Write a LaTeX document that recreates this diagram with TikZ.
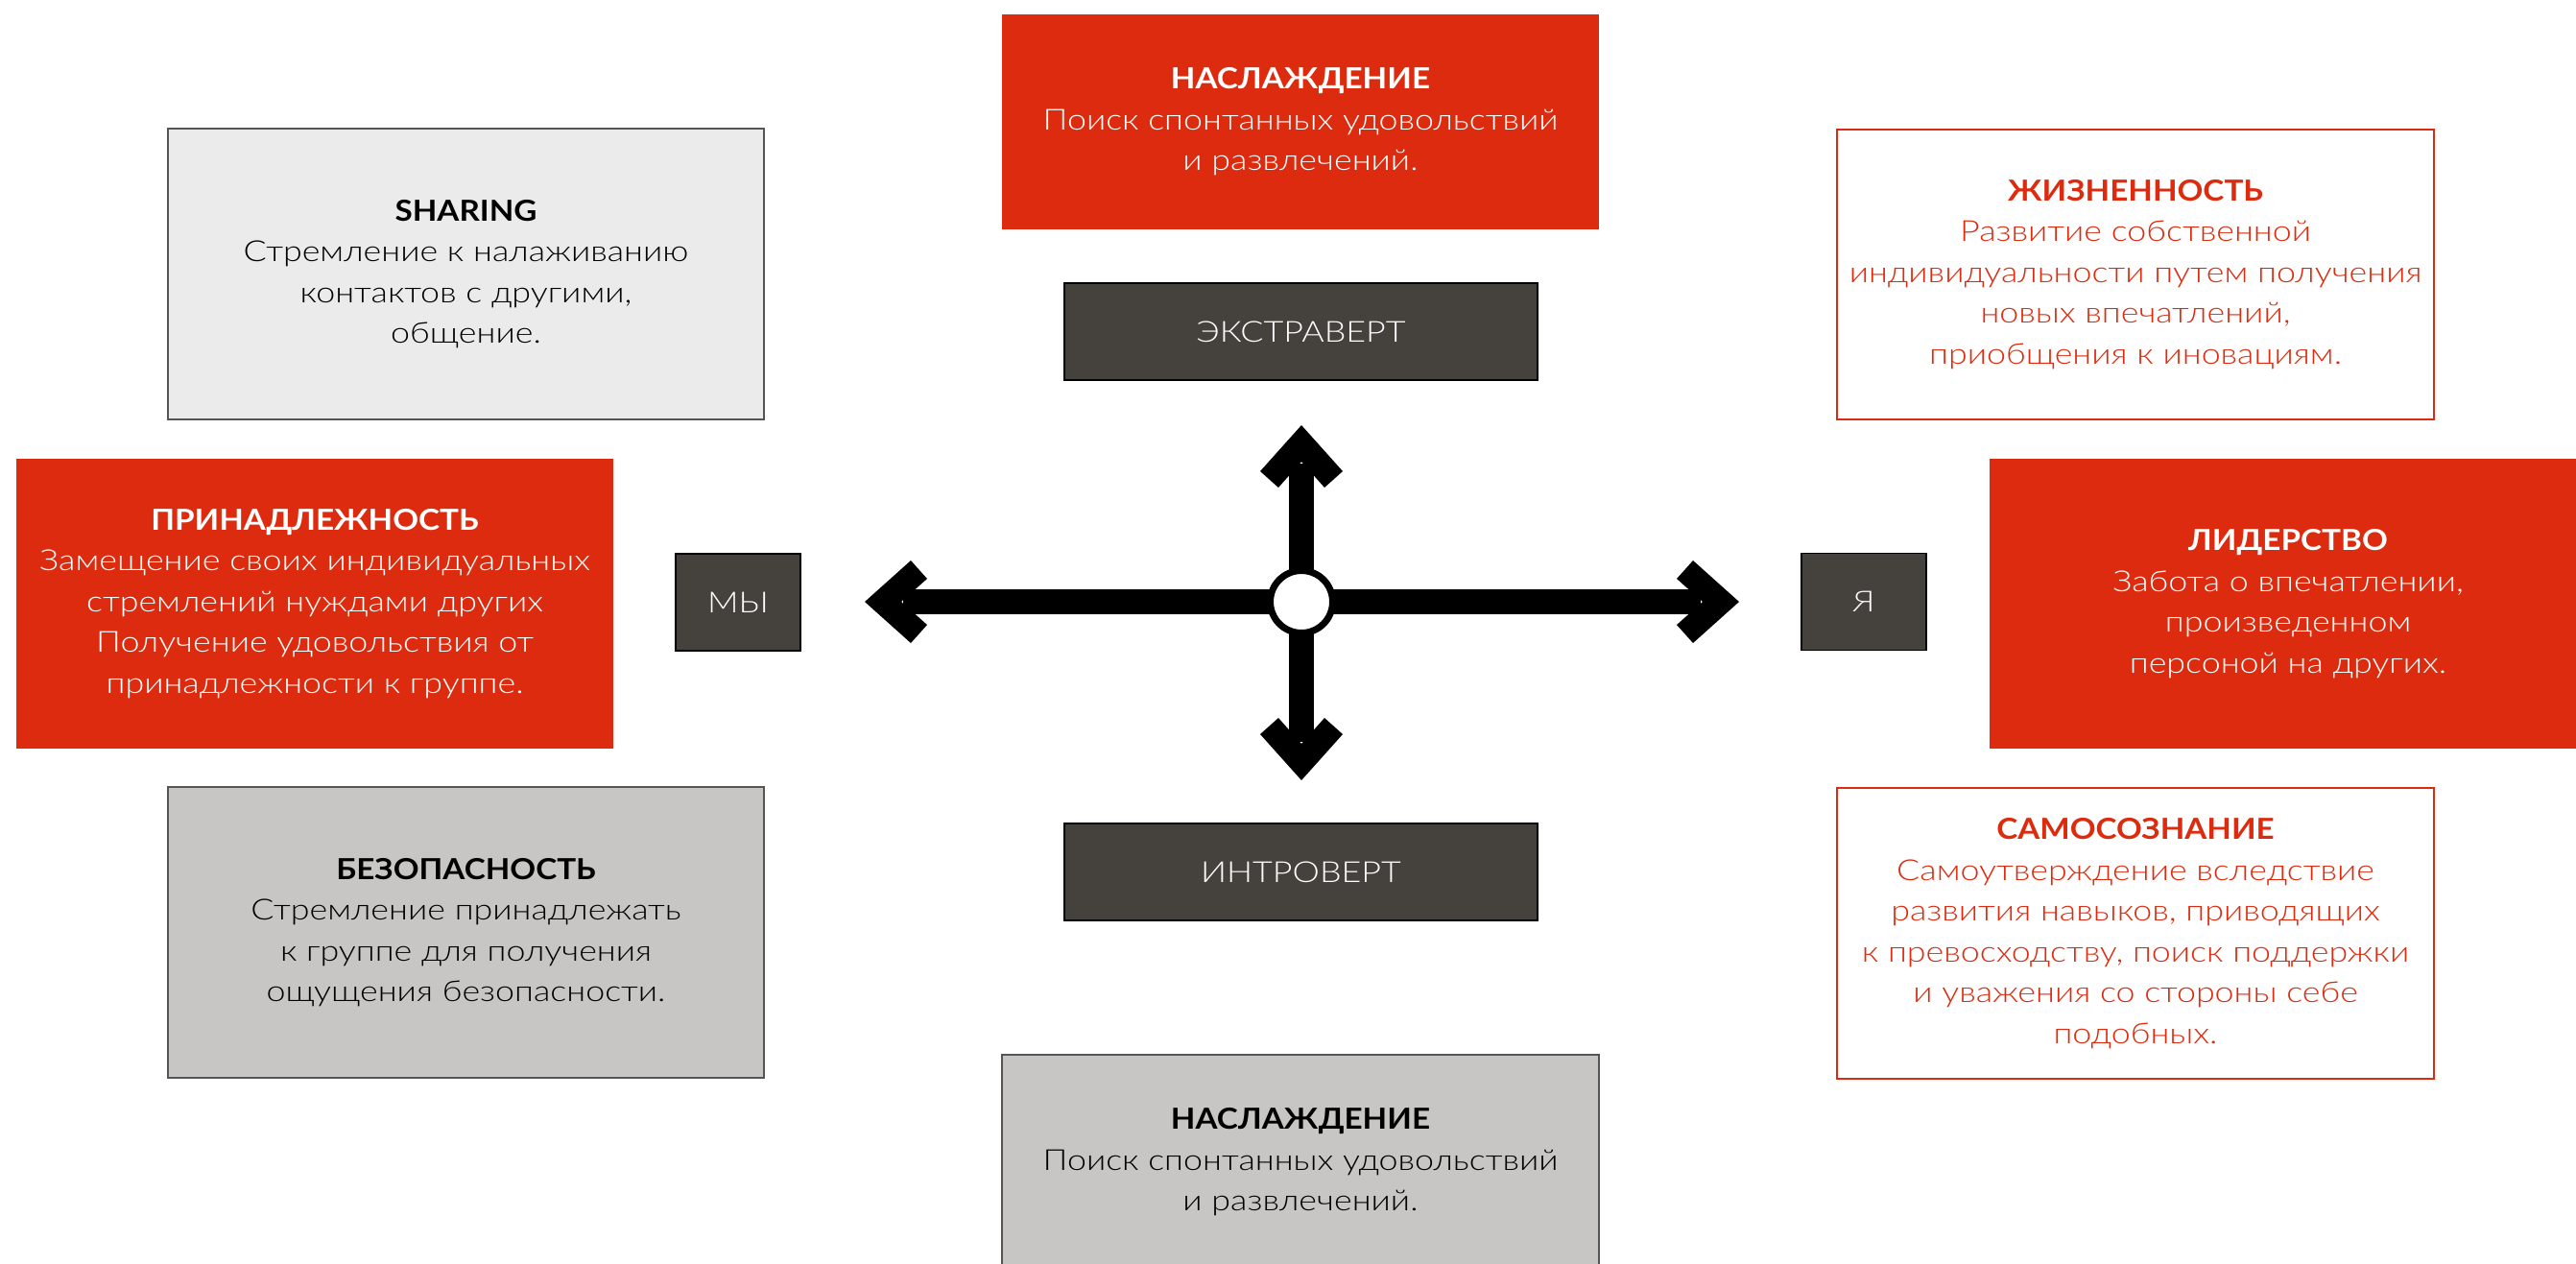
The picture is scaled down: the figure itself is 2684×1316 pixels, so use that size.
\documentclass[tikz,border=0pt]{standalone}
\usepackage{fontspec}
\setmainfont{Lato Light}[BoldFont={Lato Bold}, UprightFeatures={FakeStretch=1.185}, BoldFeatures={FakeStretch=1.1}]
\definecolor{cred}{HTML}{DC2B0E}
\definecolor{cdark}{HTML}{45423D}
\definecolor{clight}{HTML}{EBEBEB}
\definecolor{cmid}{HTML}{C7C6C4}
\definecolor{cborder}{HTML}{555555}
\newcommand\bodyfont{\fontsize{17.2}{24.2}\selectfont}
\tikzset{
  box/.style={rectangle, inner sep=0pt, align=center, font=\bodyfont},
  bigbox/.style={box, minimum width=12.44cm, minimum height=6.05cm},
  redbox/.style={fill=cred, text=white},
  outlinebox/.style={fill=white, draw=cred, line width=1.3pt, text=cred},
  lightbox/.style={fill=clight, draw=cborder, line width=1.1pt, text=black},
  midbox/.style={fill=cmid, draw=cborder, line width=1.1pt, text=black},
  darkbox/.style={box, fill=cdark, draw=black, line width=1.1pt, text=white},
  shaft/.style={line width=0.52cm, black},
  pics/chev/.style={code={\fill[black] (0,0) -- (-48,43) -- (-65,24) -- (-38,0) -- (-65,-24) -- (-48,-43) -- cycle;}}
}
\begin{document}
\begin{tikzpicture}[x=0.02cm, y=-0.02cm]
\useasboundingbox (0,0) rectangle (2684,1316);
% top and bottom
\node[box, redbox, minimum width=12.44cm, minimum height=4.48cm] (topred) at (1355,127)
  {\textbf{НАСЛАЖДЕНИЕ}\\Поиск спонтанных удовольствий\\и развлечений.};
\node[box, midbox, minimum width=12.44cm, minimum height=4.48cm] (botgrey) at (1355,1211)
  {\textbf{НАСЛАЖДЕНИЕ}\\Поиск спонтанных удовольствий\\и развлечений.};
% axis labels
\node[darkbox, minimum width=9.86cm, minimum height=2.02cm] (extra) at (1355.5,345.5) {ЭКСТРАВЕРТ};
\node[darkbox, minimum width=9.86cm, minimum height=2.02cm] (intro) at (1355.5,908.5) {ИНТРОВЕРТ};
\node[darkbox, minimum width=2.6cm, minimum height=2.02cm] (my) at (769,627.5) {МЫ};
\node[darkbox, minimum width=2.6cm, minimum height=2.02cm] (ya) at (1942,627) {Я};
% left column
\node[bigbox, lightbox] (sharing) at (485.5,285.5)
  {\textbf{SHARING}\\Стремление к налаживанию\\контактов с другими,\\общение.};
\node[bigbox, redbox] (prin) at (328,629)
  {\textbf{ПРИНАДЛЕЖНОСТЬ}\\Замещение своих индивидуальных\\стремлений нуждами других\\Получение удовольствия от\\принадлежности к группе.};
\node[bigbox, midbox] (bez) at (485.5,971.5)
  {\textbf{БЕЗОПАСНОСТЬ}\\Стремление принадлежать\\к группе для получения\\ощущения безопасности.};
% right column
\node[bigbox, outlinebox] (zhiz) at (2225,286)
  {\textbf{ЖИЗНЕННОСТЬ}\\Развитие собственной\\индивидуальности путем получения\\новых впечатлений,\\приобщения к иновациям.};
\node[bigbox, redbox] (lider) at (2384,629)
  {\textbf{ЛИДЕРСТВО}\\Забота о впечатлении,\\произведенном\\персоной на других.};
\node[bigbox, outlinebox] (samo) at (2225,972.5)
  {\textbf{САМОСОЗНАНИЕ}\\Самоутверждение вследствие\\развития навыков, приводящих\\к превосходству, поиск поддержки\\и уважения со стороны себе\\подобных.};
% cross of arrows
\coordinate (c) at (1356,627);
\coordinate (tipL) at (901,627);
\coordinate (tipR) at (1812,627);
\coordinate (tipU) at (1356,443);
\coordinate (tipD) at (1356,813);
\draw[shaft] ([xshift=0.8cm]tipL) -- ([xshift=-0.8cm]tipR);
\draw[shaft] ([yshift=-0.8cm]tipU) -- ([yshift=0.8cm]tipD);
\pic[rotate=0] at (tipR) {chev};
\pic[rotate=180] at (tipL) {chev};
\pic[rotate=90] at (tipU) {chev};
\pic[rotate=-90] at (tipD) {chev};
\node[circle, fill=white, draw=black, line width=0.14cm, minimum size=1.3cm, inner sep=0pt] (hub) at (c) {};
\end{tikzpicture}
\end{document}
